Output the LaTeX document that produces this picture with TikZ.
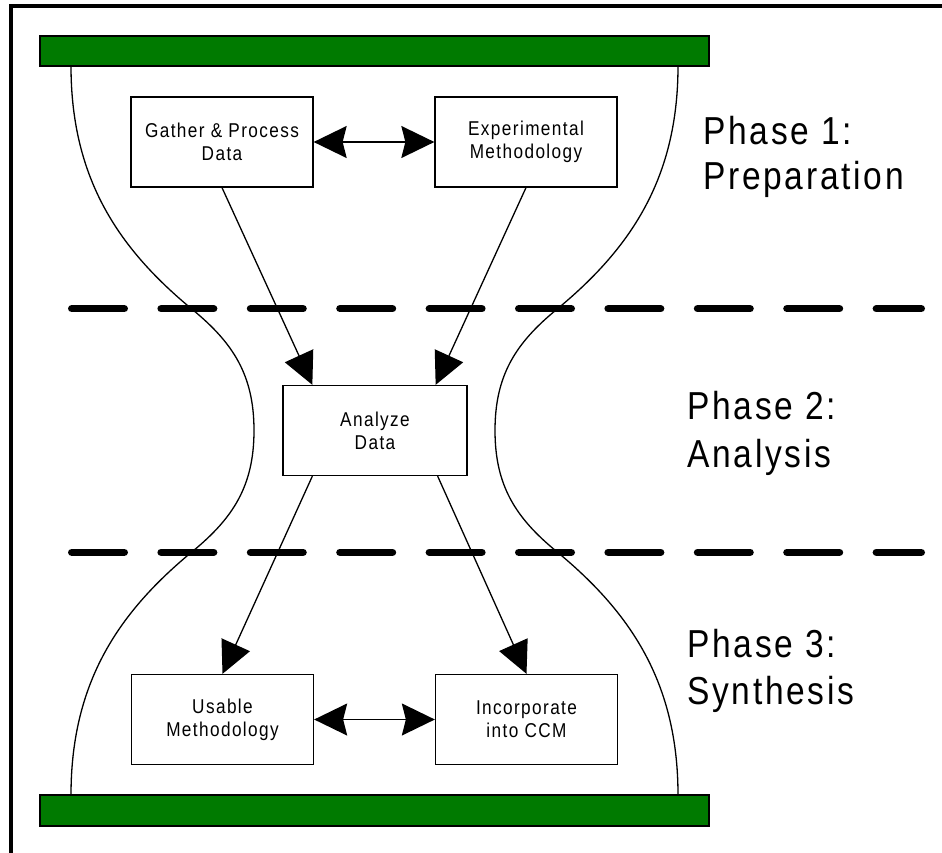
\documentclass[tikz,border=0pt]{standalone}
\usepackage{fontspec}
\setmainfont{Liberation Sans}[FakeStretch=0.86,LetterSpace=7]
\usetikzlibrary{arrows.meta,calc}
\definecolor{bargreen}{RGB}{0,122,0}
\tikzset{
  box/.style={draw,line width=1.3pt,fill=white,minimum width=182pt,minimum height=90pt,inner sep=0pt,align=center,font=\fontsize{20}{23}\selectfont},
  conn/.style={line width=1.3pt,-{Triangle[length=32pt,width=31pt]}},
  dbl/.style={line width=1.3pt,{Stealth[length=33pt,width=32pt,inset=4pt]}-{Stealth[length=33pt,width=32pt,inset=4pt]}},
  phase/.style={anchor=base west,inner sep=0pt,font=\fontsize{39}{46}\selectfont},
  divider/.style={line width=7.5pt,line cap=round,dash pattern=on 52.5pt off 36.9pt},
  hour/.style={line width=1.3pt},
  bar/.style={draw=black,line width=1.3pt,fill=bargreen}
}
\begin{document}
\begin{tikzpicture}[x=1pt,y=-1pt]
\useasboundingbox (0,0) rectangle (942,853);
% frame
\draw[line width=4pt] (11,870) -- (11,6) -- (960,6);
% hourglass curves
\draw[hour] (71,66) .. controls (71,180) and (120,250) .. (193,310)
  .. controls (233,343) and (254,375) .. (254,430.5)
  .. controls (254,486) and (233,518) .. (193,551)
  .. controls (120,611) and (71,681) .. (71,795);
\draw[hour] (678,66) .. controls (678,180) and (629,250) .. (556,310)
  .. controls (516,343) and (495,375) .. (495,430.5)
  .. controls (495,486) and (516,518) .. (556,551)
  .. controls (629,611) and (678,681) .. (678,795);
% bars
\draw[bar] (40,36) rectangle (709,66);
\draw[bar] (40,795) rectangle (709,826);
% dividers
\draw[divider] (71.75,308.7) -- (921.25,308.7);
\draw[divider] (71.75,552.3) -- (921.25,552.3);
% boxes
\node[box] (g) at (222,142) {Gather \& Process\\Data};
\node[box] (e) at (526,142) {Experimental\\Methodology};
\node[box,minimum width=184pt] (an) at (375,430.5) {Analyze\\Data};
\node[box] (u) at (222.5,719.5) {Usable\\Methodology};
\node[box] (inc) at (526.5,719.5) {Incorporate\\into CCM};
% connectors
\draw[dbl] (g.east) -- (e.west);
\draw[dbl] (u.east) -- (inc.west);
\draw[conn] (g.south) -- ([xshift=30pt]an.north west);
\draw[conn] (e.south) -- ([xshift=-32pt]an.north east);
\draw[conn] ([xshift=30pt]an.south west) -- (u.north);
\draw[conn] ([xshift=-30pt]an.south east) -- (inc.north);
% phase labels
\node[phase] (p1a) at (703,145) {Phase 1:};
\node[phase] (p1b) at (703,190) {Preparation};
\node[phase] (p2a) at (687,419) {Phase 2:};
\node[phase] (p2b) at (687,467) {Analysis};
\node[phase] (p3a) at (687,657) {Phase 3:};
\node[phase] (p3b) at (687,704) {Synthesis};
\end{tikzpicture}
\end{document}
